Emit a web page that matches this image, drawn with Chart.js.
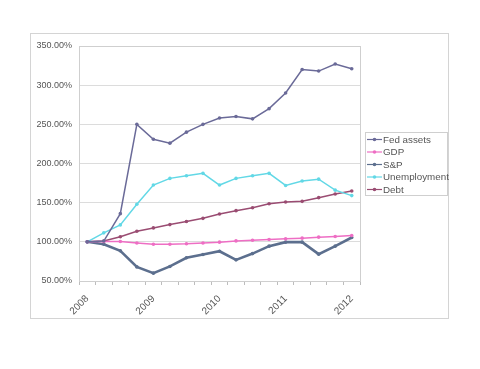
<!DOCTYPE html>
<html>
<head>
<meta charset="utf-8">
<script src="https://cdn.jsdelivr.net/npm/chart.js@4"></script>
<style>
html,body{margin:0;padding:0;background:#fff;}
#wrap{width:480px;height:369px;position:relative;}
</style>
</head>
<body>
<div id="wrap"><canvas id="c" width="480" height="369"></canvas></div>
<script>
const categories = ['2008','','','','2009','','','','2010','','','','2011','','','','2012'];
const fedAssets    = [100, 101, 136, 250, 231, 226, 240, 250, 258, 260, 257, 270, 290, 320, 318, 327, 321];
const gdp          = [100, 100.5, 100.4, 98.5, 97, 97, 97.5, 98.5, 99.6, 101.2, 102, 103, 103.8, 104.7, 106, 106.8, 108];
const sp           = [100, 97, 88.5, 68, 60, 68.6, 79.6, 83.8, 88, 77, 85, 94.5, 99.6, 99.6, 84.3, 94.5, 105.5];
const unemployment = [100, 111.5, 121.6, 148, 172.5, 181, 184.4, 187.4, 172.5, 181, 184.4, 187.4, 172, 177.6, 180, 166, 159];
const debt         = [100, 101, 106.4, 113.6, 117.8, 122, 125.9, 130, 135.6, 139.8, 143.6, 148.7, 150.9, 151.7, 156.4, 161, 164.9];
const yTicks = [50, 100, 150, 200, 250, 300, 350];

const seriesNames = ['Fed assets','GDP','S&P','Unemployment','Debt'];
const seriesData = [fedAssets, gdp, sp, unemployment, debt];
const colors = ['#6a6a98','#ee6ec4','#5c6f8e','#62d8e6','#9a4c72'];
const widths = [1.5, 1.5, 2.6, 1.5, 1.5];

const FONT = '"Liberation Sans", Arial, sans-serif';

const framePlugin = {
  id: 'frame',
  beforeDraw(chart) {
    const ctx = chart.ctx;
    ctx.save();
    ctx.fillStyle = '#fff';
    ctx.fillRect(0, 0, chart.width, chart.height);
    ctx.strokeStyle = '#d4d4d4';
    ctx.lineWidth = 1;
    ctx.strokeRect(30.5, 33.5, 418, 285);
    ctx.restore();
  },
  beforeDatasetsDraw(chart) {
    const a = chart.chartArea, ctx = chart.ctx;
    ctx.save();
    ctx.strokeStyle = '#cfcfcf';
    ctx.lineWidth = 1;
    ctx.strokeRect(Math.round(a.left) + 0.5, Math.round(a.top) + 0.5, Math.round(a.right - a.left), Math.round(a.bottom - a.top));
    ctx.restore();
  },
  afterDraw(chart) {
    const ctx = chart.ctx;
    ctx.save();
    ctx.strokeStyle = '#cfcfcf';
    ctx.lineWidth = 1;
    ctx.strokeRect(365.5, 132.5, 82, 63);
    ctx.font = '9.8px ' + FONT;
    ctx.textBaseline = 'middle';
    ctx.textAlign = 'left';
    chart.data.datasets.forEach((ds, i) => {
      const y = 139.5 + i * 12.5;
      ctx.strokeStyle = ds.borderColor;
      ctx.lineWidth = 1.2;
      ctx.beginPath();
      ctx.moveTo(367, y);
      ctx.lineTo(382, y);
      ctx.stroke();
      ctx.fillStyle = ds.borderColor;
      ctx.beginPath();
      ctx.arc(374.5, y, 1.8, 0, Math.PI * 2);
      ctx.fill();
      ctx.fillStyle = '#555';
      ctx.fillText(ds.label, 383, y + 0.5);
    });
    ctx.restore();
  }
};

new Chart(document.getElementById('c'), {
  type: 'line',
  data: {
    labels: categories,
    datasets: seriesNames.map((n, i) => ({
      label: n,
      data: seriesData[i],
      borderColor: colors[i],
      backgroundColor: colors[i],
      borderWidth: widths[i],
      pointRadius: 1.8,
      pointBorderWidth: 0,
      pointBackgroundColor: colors[i],
      tension: 0,
      fill: false
    }))
  },
  options: {
    responsive: false,
    animation: false,
    devicePixelRatio: 1,
    layout: { padding: { left: 30, right: 120, top: 46, bottom: 48 } },
    plugins: { legend: { display: false }, tooltip: { enabled: false } },
    scales: {
      x: {
        type: 'category',
        offset: true,
        afterFit: s => { s.height = 40; },
        grid: { display: true, offset: true, drawOnChartArea: false, drawTicks: true, tickLength: 4, color: '#bdbdbd' },
        border: { display: true, color: '#cfcfcf' },
        ticks: {
          autoSkip: false,
          minRotation: 45,
          maxRotation: 45,
          padding: 8,
          color: '#555',
          font: { family: FONT, size: 10 }
        }
      },
      y: {
        min: 50,
        max: 350,
        afterFit: s => { s.width = 49; },
        afterBuildTicks: s => { s.ticks = yTicks.map(v => ({ value: v })); },
        grid: { color: '#dcdcdc', drawTicks: false },
        border: { display: true, color: '#cfcfcf' },
        ticks: {
          padding: 7,
          color: '#555',
          font: { family: FONT, size: 9 },
          callback: v => v.toFixed(2) + '%'
        }
      }
    }
  },
  plugins: [framePlugin]
});
</script>
</body>
</html>
